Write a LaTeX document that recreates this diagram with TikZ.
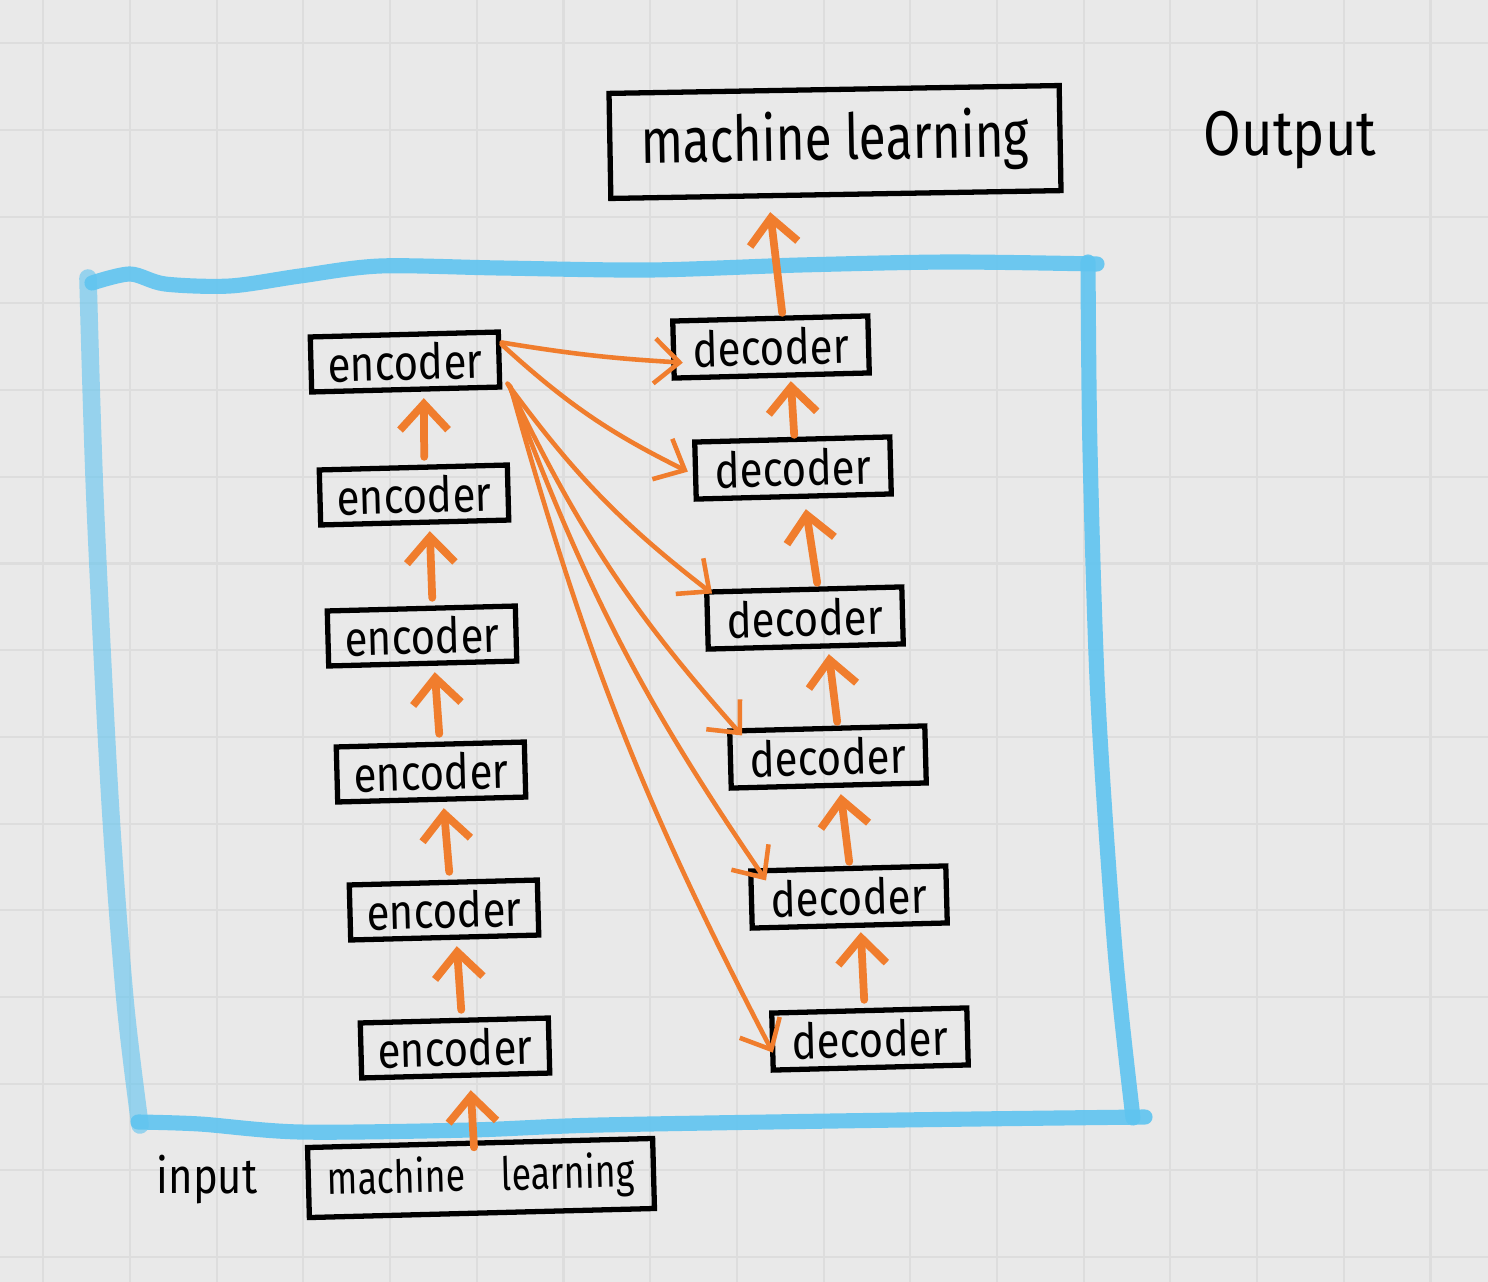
\documentclass[tikz,border=0pt]{standalone}
\usepackage{fontspec}
\setmainfont{Fira Sans}
\usetikzlibrary{arrows.meta}
\definecolor{bgc}{RGB}{233,233,233}
\definecolor{gridc}{RGB}{221,221,221}
\definecolor{skyb}{RGB}{95,196,240}
\definecolor{orng}{RGB}{240,125,45}
\newcommand{\sqz}[2]{\scalebox{#1}[1]{#2}}
\begin{document}
\begin{tikzpicture}[x=0.01cm,y=-0.01cm,
 box/.style={draw=black, line width=1.5pt, inner sep=0pt, rotate=1.5, font=\fontsize{14}{16}\selectfont},
 encbox/.style={box, minimum width=1.88cm, minimum height=0.55cm},
 decbox/.style={box, minimum width=1.95cm, minimum height=0.57cm},
 upar/.style={draw=orng, line width=2.2pt, line cap=round, -{Straight Barb[length=2.6mm,width=4.8mm,line width=2.2pt]}},
 fanar/.style={draw=orng, line width=1.3pt, line cap=round, -{Straight Barb[length=2.5mm,width=4.5mm,line width=1.3pt]}},
 blueb/.style={draw=skyb, line width=4.3pt, opacity=0.9, line cap=round, line join=round},
 lbl/.style={inner sep=0pt}
]
\useasboundingbox (0,0) rectangle (1488,1282);
\fill[bgc] (0,0) rectangle (1488,1282);
\foreach \i in {0,...,17} \draw[gridc, line width=0.6pt] ({43.3+86.7*\i},0) -- ({43.3+86.7*\i},1282);
\foreach \i in {0,...,14} \draw[gridc, line width=0.6pt] (0,{43.3+86.7*\i}) -- (1488,{43.3+86.7*\i});

% blue frame
\draw[blueb] plot[smooth] coordinates {(92,283) (130,274) (165,284) (230,286) (300,276) (380,266) (500,268) (650,270) (800,265) (950,262) (1097,264)};
\draw[blueb] plot[smooth] coordinates {(1088,262) (1090,450) (1098,700) (1115,950) (1133,1118)};
\draw[blueb] plot[smooth] coordinates {(1145,1117) (900,1120) (600,1125) (470,1130) (300,1132) (200,1124) (138,1122)};
\draw[blueb, opacity=0.6, line width=5pt] plot[smooth] coordinates {(88,278) (95,500) (110,800) (125,1000) (140,1125)};

% nodes
\node[box, minimum width=4.5cm, minimum height=1.05cm, rotate=-0.5, font=\fontsize{18}{21}\selectfont] (out) at (835,142) {\sqz{0.78}{machine learning}};
\node[lbl, font=\fontsize{18}{21}\selectfont] (outlbl) at (1290,140) {\sqz{0.86}{Output}};
\node[box, minimum width=3.45cm, minimum height=0.7cm, font=\fontsize{13}{15}\selectfont] (in) at (481,1178) {\sqz{0.78}{machine\quad learning}};
\node[lbl, font=\fontsize{14}{16}\selectfont] (inlbl) at (207,1180) {\sqz{0.85}{input}};

\node[encbox] (e1) at (405,362) {\sqz{0.85}{encoder}};
\node[encbox] (e2) at (414,495) {\sqz{0.85}{encoder}};
\node[encbox] (e3) at (422,636) {\sqz{0.85}{encoder}};
\node[encbox] (e4) at (431,772) {\sqz{0.85}{encoder}};
\node[encbox] (e5) at (444,910) {\sqz{0.85}{encoder}};
\node[encbox] (e6) at (455,1048) {\sqz{0.85}{encoder}};

\node[decbox] (d1) at (771,347) {\sqz{0.85}{decoder}};
\node[decbox] (d2) at (793,468) {\sqz{0.85}{decoder}};
\node[decbox] (d3) at (805,618) {\sqz{0.85}{decoder}};
\node[decbox] (d4) at (828,757) {\sqz{0.85}{decoder}};
\node[decbox] (d5) at (849,897) {\sqz{0.85}{decoder}};
\node[decbox] (d6) at (870,1039) {\sqz{0.85}{decoder}};

% encoder stack arrows
\draw[upar] ([xshift=-0.6mm,yshift=-0.7mm]in.north) -- ([xshift=1.5mm,yshift=-1.2mm]e6.south);
\draw[upar] ([xshift=0.7mm,yshift=0.8mm]e6.north) -- ([xshift=1.2mm,yshift=-0.6mm]e5.south);
\draw[upar] ([xshift=0.6mm,yshift=0.8mm]e5.north) -- ([xshift=1.2mm,yshift=-0.6mm]e4.south);
\draw[upar] ([xshift=0.9mm,yshift=0.8mm]e4.north) -- ([xshift=1.2mm,yshift=-0.6mm]e3.south);
\draw[upar] ([xshift=1.1mm,yshift=0.8mm]e3.north) -- ([xshift=1.5mm,yshift=-0.6mm]e2.south);
\draw[upar] ([xshift=1.1mm,yshift=0.8mm]e2.north) -- ([xshift=1.8mm,yshift=-0.6mm]e1.south);

% decoder stack arrows
\draw[upar] ([xshift=-0.5mm,yshift=0.8mm]d6.north) -- ([xshift=1.1mm,yshift=-0.4mm]d5.south);
\draw[upar] ([xshift=0.1mm,yshift=0.4mm]d5.north) -- ([xshift=1.2mm,yshift=-0.6mm]d4.south);
\draw[upar] ([xshift=1.0mm,yshift=0.4mm]d4.north) -- ([xshift=2.3mm,yshift=-0.5mm]d3.south);
\draw[upar] ([xshift=1.3mm,yshift=0.4mm]d3.north) -- ([xshift=1.2mm,yshift=-1.0mm]d2.south);
\draw[upar] ([xshift=0.2mm,yshift=0.2mm]d2.north) -- ([xshift=1.9mm,yshift=-0.3mm]d1.south);
\draw[upar] ([xshift=1.2mm,yshift=0.3mm]d1.north) -- ([xshift=0mm,yshift=-1.5mm]out.south -| d1.north);

% fan arrows from top encoder
\draw[fanar] ([yshift=1.7mm]e1.east) to[bend right=3] ([xshift=1.2mm,yshift=-1.3mm]d1.west);
\draw[fanar] ([yshift=1.5mm]e1.east) to[bend right=8] ([xshift=-0.5mm,yshift=-0.1mm]d2.west);
\draw[fanar] ([xshift=0.5mm,yshift=0.6mm]e1.south east) to[bend right=8] ([xshift=0.8mm,yshift=-0.4mm]d3.north west);
\draw[fanar] ([xshift=0.6mm,yshift=0.5mm]e1.south east) to[bend right=8] ([xshift=1.5mm,yshift=-0.7mm]d4.north west);
\draw[fanar] ([xshift=0.7mm,yshift=0.4mm]e1.south east) to[bend right=7] ([xshift=1.8mm,yshift=-1.2mm]d5.north west);
\draw[fanar] ([xshift=0.8mm,yshift=0.3mm]e1.south east) to[bend right=6] ([xshift=0.3mm,yshift=-1.1mm]d6.west);
\end{tikzpicture}
\end{document}
